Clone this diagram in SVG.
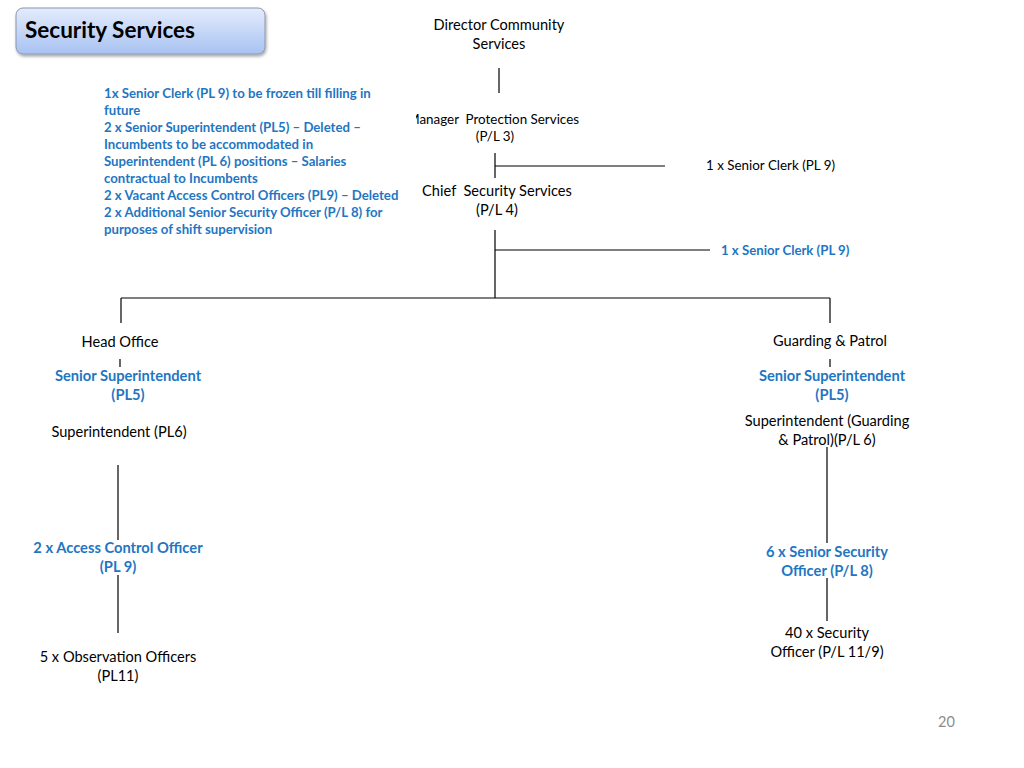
<svg xmlns="http://www.w3.org/2000/svg" width="1024" height="768" viewBox="0 0 1024 768">
<defs>
<linearGradient id="tg" x1="0" y1="0" x2="0" y2="1">
<stop offset="0" stop-color="#e4ecfc"/>
<stop offset="1" stop-color="#a8c2f2"/>
</linearGradient>
<filter id="sh" x="-10%" y="-20%" width="120%" height="150%">
<feDropShadow dx="1" dy="2" stdDeviation="1.5" flood-color="#000" flood-opacity="0.35"/>
</filter>
<clipPath id="mclip"><rect x="416" y="100" width="200" height="50"/></clipPath>
</defs>
<style>
text{font-family:Lato,"Open Sans","Liberation Sans",sans-serif;fill:#000;white-space:pre}
.n{font-size:14.6px;text-anchor:middle}
.s{font-size:13.4px}
.b{font-size:14.7px;font-weight:bold;fill:#1f76c2;text-anchor:middle}
.note{font-size:13.2px;font-weight:bold;fill:#1f76c2}
.c line{stroke:#000;stroke-width:1.2}
</style>
<rect width="1024" height="768" fill="#fff"/>
<g id="title">
<rect x="16" y="8" width="249" height="46" rx="7" fill="url(#tg)" stroke="#8a97ad" stroke-width="1" filter="url(#sh)"/>
<text x="25" y="38" style="font-size:22.5px;font-weight:bold">Security Services</text>
</g>
<g id="note">
<text class="note" x="104" y="98">1x Senior Clerk (PL 9) to be frozen till filling in</text>
<text class="note" x="104" y="115">future</text>
<text class="note" x="104" y="132">2 x Senior Superintendent (PL5) – Deleted –</text>
<text class="note" x="104" y="149">Incumbents to be accommodated in</text>
<text class="note" x="104" y="166">Superintendent (PL 6) positions – Salaries</text>
<text class="note" x="104" y="183">contractual to Incumbents</text>
<text class="note" x="104" y="200">2 x Vacant Access Control Officers (PL9) – Deleted</text>
<text class="note" x="104" y="217">2 x Additional Senior Security Officer (P/L 8) for</text>
<text class="note" x="104" y="234">purposes of shift supervision</text>
</g>
<g class="c" id="connectors">
<line x1="499" y1="68" x2="499" y2="93"/>
<line x1="495" y1="153" x2="495" y2="178"/>
<line x1="495" y1="166" x2="665" y2="166"/>
<line x1="495" y1="230" x2="495" y2="298"/>
<line x1="495" y1="250" x2="710" y2="250"/>
<line x1="121" y1="298" x2="830" y2="298"/>
<line x1="121" y1="298" x2="121" y2="323"/>
<line x1="830" y1="298" x2="830" y2="323"/>
<line x1="120" y1="359" x2="120" y2="367"/>
<line x1="830" y1="359" x2="830" y2="367"/>
<line x1="118" y1="465" x2="118" y2="540"/>
<line x1="118" y1="575" x2="118" y2="633"/>
<line x1="827" y1="447" x2="827" y2="543"/>
<line x1="827" y1="578" x2="827" y2="621"/>
</g>
<g id="director">
<text class="n" x="499" y="30">Director Community</text>
<text class="n" x="499" y="49">Services</text>
</g>
<g id="manager">
<text class="s" x="579" y="124" text-anchor="end" clip-path="url(#mclip)">Manager  Protection Services</text>
<text class="s" x="495" y="141" text-anchor="middle">(P/L 3)</text>
</g>
<g id="clerk1">
<text class="s" x="706" y="170">1 x Senior Clerk (PL 9)</text>
</g>
<g id="chief">
<text class="n" x="497" y="196">Chief  Security Services</text>
<text class="n" x="497" y="215">(P/L 4)</text>
</g>
<g id="clerk2">
<text class="note" x="721" y="255">1 x Senior Clerk (PL 9)</text>
</g>
<g id="headoffice">
<text class="n" x="120" y="347">Head Office</text>
</g>
<g id="ss-left">
<text class="b" x="128" y="381">Senior Superintendent</text>
<text class="b" x="128" y="400">(PL5)</text>
</g>
<g id="sup-left">
<text class="n" x="119" y="437">Superintendent (PL6)</text>
</g>
<g id="aco">
<text class="b" x="118" y="553">2 x Access Control Officer</text>
<text class="b" x="118" y="572">(PL 9)</text>
</g>
<g id="obs">
<text class="n" x="118" y="662">5 x Observation Officers</text>
<text class="n" x="118" y="681">(PL11)</text>
</g>
<g id="guarding">
<text class="n" x="830" y="346">Guarding &amp; Patrol</text>
</g>
<g id="ss-right">
<text class="b" x="832" y="381">Senior Superintendent</text>
<text class="b" x="832" y="400">(PL5)</text>
</g>
<g id="sup-right">
<text class="n" x="827" y="426">Superintendent (Guarding</text>
<text class="n" x="827" y="445">&amp; Patrol)(P/L 6)</text>
</g>
<g id="sso">
<text class="b" x="827" y="557">6 x Senior Security</text>
<text class="b" x="827" y="576">Officer (P/L 8)</text>
</g>
<g id="so">
<text class="n" x="827" y="638">40 x Security</text>
<text class="n" x="827" y="657">Officer (P/L 11/9)</text>
</g>
<g id="page">
<text x="938" y="727" style="font-size:14.5px;fill:#8c8c8c">20</text>
</g>
</svg>
